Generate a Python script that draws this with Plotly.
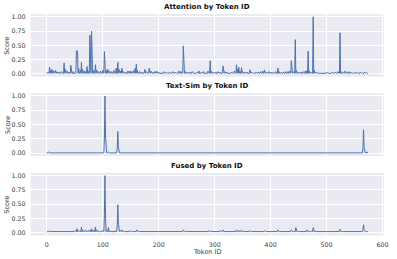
import plotly.graph_objects as go

N_TOKENS = 575
token_ids = list(range(N_TOKENS))

# ---- Attention scores: baseline plus read-off peaks ----
attn_base = 0.01
attn_peak_ids = [2, 5, 7, 9, 12, 15, 18, 22, 26, 31, 33, 36, 40, 43, 47, 53, 54, 55, 57, 60, 62, 64, 68, 72, 74,
                 77, 78, 80, 81, 84, 87, 89, 92, 96, 100, 103, 104, 106, 109, 112, 116, 120, 124, 127, 129, 132,
                 134, 137, 141, 145, 149, 152, 155, 158, 160, 162, 166, 170, 175, 178, 183, 186, 190, 193, 196,
                 200, 205, 209, 214, 220, 225, 230, 236, 240, 244, 245, 248, 252, 256, 260, 265, 268, 272, 276,
                 280, 284, 288, 292, 294, 298, 302, 306, 310, 315, 318, 322, 326, 330, 335, 339, 341, 343, 345,
                 348, 350, 354, 358, 363, 366, 370, 374, 378, 382, 386, 389, 392, 397, 401, 405, 409, 413, 415,
                 419, 423, 427, 431, 434, 437, 440, 444, 446, 450, 454, 458, 462, 465, 467, 469, 472, 476, 478,
                 481, 485, 490, 495, 500, 505, 510, 515, 520, 524, 526, 530, 533, 536, 540, 544, 548, 552, 556,
                 560, 564, 568, 572]
attn_peak_vals = [0.03, 0.12, 0.06, 0.08, 0.05, 0.06, 0.04, 0.03, 0.04, 0.19, 0.08, 0.05, 0.03, 0.15, 0.04, 0.40,
                  0.41, 0.38, 0.10, 0.06, 0.20, 0.08, 0.05, 0.13, 0.05, 0.68, 0.40, 0.75, 0.30, 0.06, 0.16, 0.07,
                  0.04, 0.05, 0.06, 0.39, 0.20, 0.06, 0.08, 0.05, 0.04, 0.06, 0.10, 0.20, 0.08, 0.05, 0.10, 0.04,
                  0.03, 0.05, 0.05, 0.04, 0.06, 0.10, 0.17, 0.06, 0.04, 0.03, 0.08, 0.04, 0.10, 0.05, 0.03, 0.04,
                  0.05, 0.03, 0.02, 0.04, 0.03, 0.03, 0.04, 0.03, 0.05, 0.04, 0.49, 0.20, 0.04, 0.03, 0.03, 0.04,
                  0.02, 0.03, 0.05, 0.03, 0.04, 0.02, 0.05, 0.23, 0.05, 0.03, 0.03, 0.04, 0.03, 0.14, 0.04, 0.03,
                  0.02, 0.03, 0.05, 0.16, 0.08, 0.12, 0.05, 0.11, 0.04, 0.03, 0.03, 0.07, 0.03, 0.02, 0.03, 0.03,
                  0.04, 0.05, 0.07, 0.03, 0.04, 0.03, 0.03, 0.04, 0.10, 0.04, 0.03, 0.03, 0.04, 0.04, 0.05, 0.23,
                  0.04, 0.60, 0.06, 0.03, 0.03, 0.04, 0.05, 0.06, 0.40, 0.05, 0.03, 1.00, 0.06, 0.03, 0.02, 0.02,
                  0.02, 0.03, 0.02, 0.03, 0.03, 0.04, 0.72, 0.04, 0.03, 0.05, 0.03, 0.04, 0.03, 0.02, 0.03, 0.02,
                  0.03, 0.02, 0.03, 0.02]

# ---- Text-similarity scores ----
ts_base = 0.002
ts_peak_ids = [3, 21, 63, 87, 103, 104, 105, 110, 126, 127, 128, 150, 290, 323, 393, 420, 545, 555, 565, 566, 567, 572]
ts_peak_vals = [0.02, 0.015, 0.015, 0.015, 0.25, 1.00, 0.30, 0.02, 0.10, 0.38, 0.10, 0.01, 0.01, 0.01, 0.01, 0.01,
                0.015, 0.015, 0.10, 0.41, 0.10, 0.02]

# ---- Fused scores ----
fused_base = 0.02
fused_peak_ids = [0, 3, 6, 10, 14, 18, 22, 27, 31, 35, 40, 44, 48, 51, 54, 56, 59, 62, 64, 66, 69, 72, 75, 78, 80,
                  82, 85, 87, 89, 92, 96, 100, 103, 104, 105, 107, 110, 112, 116, 120, 124, 126, 127, 128, 131,
                  134, 137, 141, 145, 149, 153, 157, 161, 165, 170, 176, 182, 186, 190, 196, 202, 208, 214, 218,
                  224, 230, 236, 240, 244, 248, 254, 260, 266, 272, 278, 284, 290, 296, 302, 306, 310, 315, 320,
                  326, 332, 339, 343, 348, 354, 360, 363, 368, 374, 380, 386, 389, 394, 400, 406, 413, 418, 424,
                  430, 437, 441, 445, 448, 454, 460, 465, 468, 472, 476, 479, 484, 490, 496, 502, 508, 514, 518,
                  524, 528, 534, 540, 546, 552, 556, 560, 565, 566, 567, 570, 574]
fused_peak_vals = [0.01, 0.03, 0.025, 0.03, 0.02, 0.025, 0.02, 0.02, 0.03, 0.025, 0.03, 0.025, 0.03, 0.04, 0.07,
                   0.04, 0.03, 0.10, 0.05, 0.03, 0.05, 0.03, 0.04, 0.05, 0.07, 0.04, 0.05, 0.10, 0.05, 0.03, 0.03,
                   0.04, 0.30, 1.00, 0.25, 0.04, 0.09, 0.04, 0.03, 0.03, 0.04, 0.15, 0.49, 0.15, 0.04, 0.05, 0.03,
                   0.02, 0.03, 0.04, 0.03, 0.03, 0.05, 0.03, 0.02, 0.03, 0.02, 0.03, 0.02, 0.03, 0.02, 0.03, 0.02,
                   0.03, 0.02, 0.03, 0.03, 0.02, 0.05, 0.03, 0.02, 0.03, 0.02, 0.03, 0.03, 0.02, 0.04, 0.03, 0.02,
                   0.03, 0.04, 0.05, 0.03, 0.02, 0.03, 0.05, 0.04, 0.05, 0.03, 0.03, 0.04, 0.02, 0.03, 0.02, 0.03,
                   0.04, 0.02, 0.03, 0.02, 0.05, 0.03, 0.02, 0.03, 0.05, 0.03, 0.09, 0.03, 0.02, 0.03, 0.05, 0.03,
                   0.03, 0.09, 0.03, 0.02, 0.03, 0.02, 0.02, 0.03, 0.02, 0.03, 0.06, 0.03, 0.02, 0.03, 0.03, 0.02,
                   0.03, 0.03, 0.05, 0.14, 0.04, 0.03, 0.02]

panel_titles = ["Attention by Token ID", "Text-Sim by Token ID", "Fused by Token ID"]
y_tick_vals = [0.0, 0.25, 0.5, 0.75, 1.0]
x_tick_vals = [0, 100, 200, 300, 400, 500, 600]
x_label = "Token ID"
y_label = "Score"


def build(base, ids, vals):
    ys = [base] * N_TOKENS
    for i, v in zip(ids, vals):
        ys[i] = v
    return ys


series = [build(attn_base, attn_peak_ids, attn_peak_vals),
          build(ts_base, ts_peak_ids, ts_peak_vals),
          build(fused_base, fused_peak_ids, fused_peak_vals)]

W, H = 397, 259
left_px, right_px = 31, 388
panels_px = [(13, 76), (92.5, 155.5), (172.5, 235.5)]

fig = go.Figure()
LINE = "#4C72B0"
BG = "#EAEAF2"
TICKC = "#3a3a3a"
FONT = "DejaVu Sans"

for k, ys in enumerate(series):
    idx = "" if k == 0 else str(k + 1)
    fig.add_trace(go.Scatter(x=token_ids, y=ys, mode="lines",
                             line=dict(color=LINE, width=1), xaxis="x" + idx, yaxis="y" + idx,
                             showlegend=False, hoverinfo="skip"))
    top, bot = panels_px[k]
    ydom = [1 - bot / H, 1 - top / H]
    xax = dict(domain=[left_px / W, right_px / W], range=[-28.7, 602.7], tickvals=x_tick_vals,
               showgrid=True, gridcolor="white", gridwidth=1, zeroline=False, showline=False,
               ticks="outside", ticklen=3, tickcolor="rgba(0,0,0,0)",
               tickfont=dict(family=FONT, size=6.3, color=TICKC), showticklabels=(k == 2),
               anchor="y" + idx)
    yax = dict(domain=ydom, range=[-0.05, 1.05], tickvals=y_tick_vals, tickformat=".2f",
               showgrid=True, gridcolor="white", gridwidth=1, zeroline=False, showline=False,
               ticks="outside", ticklen=3, tickcolor="rgba(0,0,0,0)",
               tickfont=dict(family=FONT, size=6.3, color=TICKC), anchor="x" + idx)
    fig.layout["xaxis" + idx] = xax
    fig.layout["yaxis" + idx] = yax
    fig.add_shape(type="rect", xref="paper", yref="paper", x0=left_px / W, x1=right_px / W,
                  y0=ydom[0], y1=ydom[1], fillcolor=BG, line=dict(width=0), layer="below")
    fig.add_annotation(text="<b>" + panel_titles[k] + "</b>", xref="paper", yref="paper",
                       x=(left_px + right_px) / 2 / W, y=ydom[1], yanchor="bottom", yshift=1,
                       showarrow=False, font=dict(family=FONT, size=7, color="#111"))
    fig.add_annotation(text=y_label, xref="paper", yref="paper", x=7.5 / W, y=(ydom[0] + ydom[1]) / 2,
                       textangle=-90, showarrow=False, xanchor="center", yanchor="middle",
                       font=dict(family=FONT, size=6.5, color=TICKC))

fig.add_annotation(text=x_label, xref="paper", yref="paper", x=(left_px + right_px) / 2 / W,
                   y=1 - 251.5 / H, showarrow=False, yanchor="middle",
                   font=dict(family=FONT, size=6.5, color=TICKC))

fig.update_layout(width=W, height=H, margin=dict(l=0, r=0, t=0, b=0),
                  paper_bgcolor="white", plot_bgcolor="rgba(0,0,0,0)")

fig.write_html("out.html", config={"displayModeBar": False, "staticPlot": True},
               post_script="document.body.style.margin='0';document.body.style.padding='0';")
